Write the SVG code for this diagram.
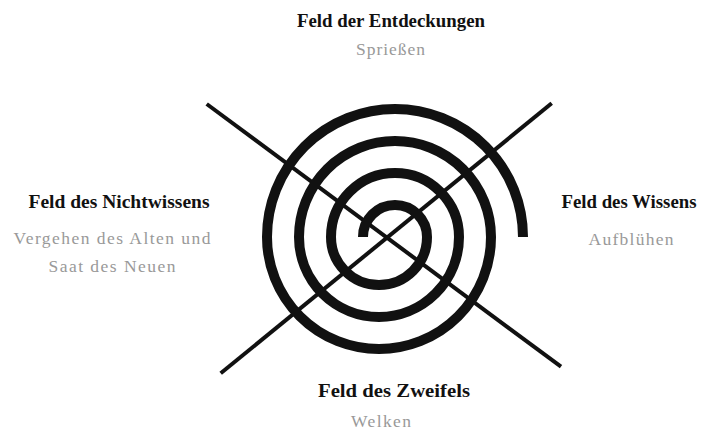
<svg xmlns="http://www.w3.org/2000/svg" width="702" height="435" viewBox="0 0 702 435">
<style>
.title{font-family:"Liberation Serif","DejaVu Serif",serif;font-weight:bold;font-size:18px;fill:#111;text-anchor:middle}
.sub{font-family:"Liberation Serif","DejaVu Serif",serif;font-size:17.5px;fill:#999;text-anchor:middle}
.ray{stroke:#111;stroke-width:4;fill:none;stroke-linecap:butt}
.spiral{stroke:#111;stroke-width:10;fill:none;stroke-linecap:butt}
</style>
<rect width="702" height="435" fill="#fff"/>
<g id="connectors">
<line class="ray" x1="206.7" y1="104" x2="561" y2="366.7"/>
<line class="ray" x1="220.7" y1="373.3" x2="551.7" y2="103.3"/>
</g>
<g id="spiral">
<path class="spiral" d="M363 237 A32 32 0 0 1 427 237 A48 48 0 0 1 331 237 A64 64 0 0 1 459 237 A80 80 0 0 1 299 237 A96 96 0 0 1 491 237 A112 112 0 0 1 267 237 A128 128 0 0 1 523 237"/>
</g>
<g id="top">
<text class="title" x="391" y="27" textLength="188" lengthAdjust="spacingAndGlyphs">Feld der Entdeckungen</text>
<text class="sub" x="390.5" y="55" textLength="69" lengthAdjust="spacing">Sprießen</text>
</g>
<g id="left">
<text class="title" x="119" y="208" textLength="181" lengthAdjust="spacingAndGlyphs">Feld des Nichtwissens</text>
<text class="sub" x="112" y="244" textLength="197" lengthAdjust="spacing">Vergehen des Alten und</text>
<text class="sub" x="112" y="271.5" textLength="127" lengthAdjust="spacing">Saat des Neuen</text>
</g>
<g id="right">
<text class="title" x="629" y="208" textLength="135" lengthAdjust="spacingAndGlyphs">Feld des Wissens</text>
<text class="sub" x="631" y="245" textLength="85" lengthAdjust="spacing">Aufblühen</text>
</g>
<g id="bottom">
<text class="title" x="394" y="396.5" textLength="152" lengthAdjust="spacingAndGlyphs">Feld des Zweifels</text>
<text class="sub" x="381" y="427" textLength="60" lengthAdjust="spacing">Welken</text>
</g>
</svg>
